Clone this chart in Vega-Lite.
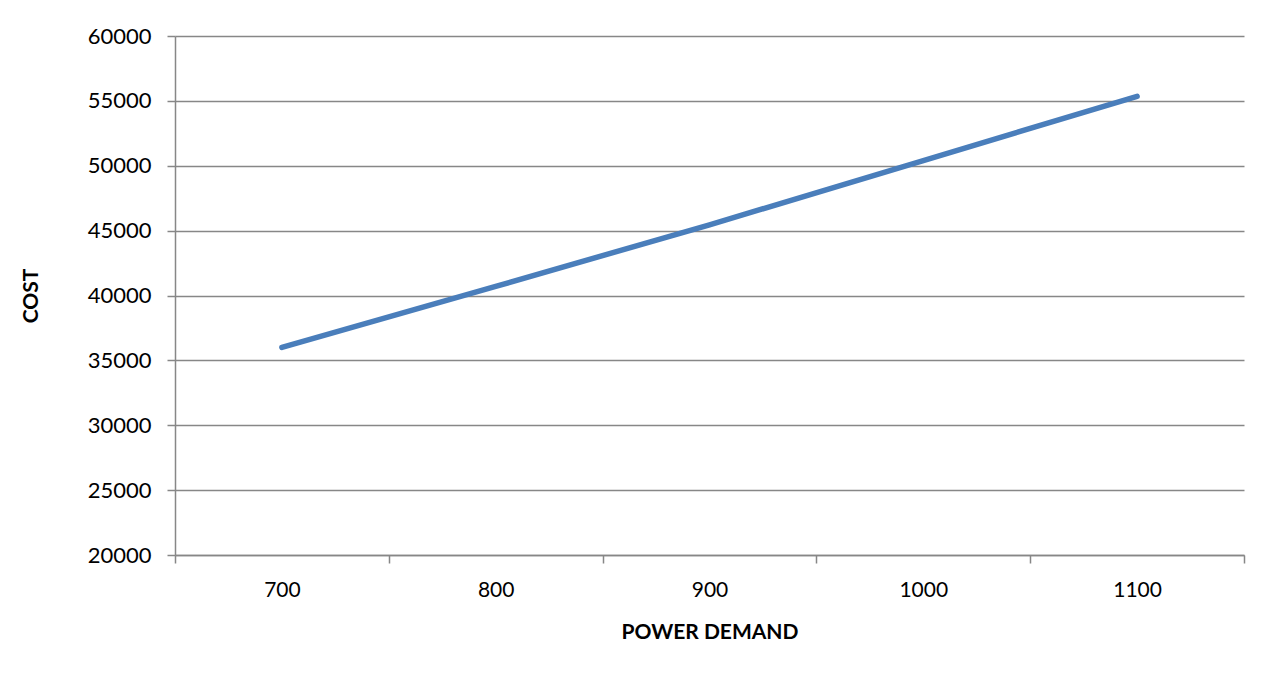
{
  "$schema": "https://vega.github.io/schema/vega-lite/v6.json",
  "width": 1069,
  "height": 519,
  "autosize": {"type": "none"},
  "padding": {"left": 175, "top": 36, "right": 27, "bottom": 119},
  "background": "white",
  "config": {
    "view": {"stroke": null},
    "font": "Lato"
  },
  "data": {
    "values": [
      {"demand": "700", "cost": 36000},
      {"demand": "800", "cost": 40700},
      {"demand": "900", "cost": 45450},
      {"demand": "1000", "cost": 50400},
      {"demand": "1100", "cost": 55350}
    ]
  },
  "mark": {"type": "line", "color": "#4a7ebb", "strokeWidth": 5.5, "strokeCap": "round"},
  "encoding": {
    "x": {
      "field": "demand",
      "type": "ordinal",
      "sort": null,
      "bandPosition": 0.5,
      "scale": {"type": "band", "paddingInner": 0, "paddingOuter": 0},
      "axis": {
        "title": "POWER DEMAND",
        "titleFont": "Lato",
        "titleFontSize": 21,
        "titleFontWeight": "bold",
        "titleColor": "#000000",
        "titlePadding": 21,
        "labelFont": "Lato",
        "labelFontSize": 21,
        "labelColor": "#000000",
        "labelAngle": 0,
        "labelPadding": 16,
        "tickBand": "extent",
        "tickSize": 8,
        "tickColor": "#878787",
        "tickWidth": 1.5,
        "domainColor": "#878787",
        "domainWidth": 1.5,
        "grid": false
      }
    },
    "y": {
      "field": "cost",
      "type": "quantitative",
      "scale": {"domain": [20000, 60000], "nice": false, "zero": false},
      "axis": {
        "title": "COST",
        "titleFont": "Lato",
        "titleFontSize": 21,
        "titleFontWeight": "bold",
        "titleColor": "#000000",
        "titlePadding": 46,
        "labelFont": "Lato",
        "labelFontSize": 22,
        "labelColor": "#000000",
        "labelPadding": 16,
        "values": [20000, 25000, 30000, 35000, 40000, 45000, 50000, 55000, 60000],
        "format": "d",
        "tickSize": 8,
        "tickColor": "#878787",
        "tickWidth": 1.5,
        "domainColor": "#878787",
        "domainWidth": 1.5,
        "grid": true,
        "gridColor": "#878787",
        "gridWidth": 1.5
      }
    }
  }
}
